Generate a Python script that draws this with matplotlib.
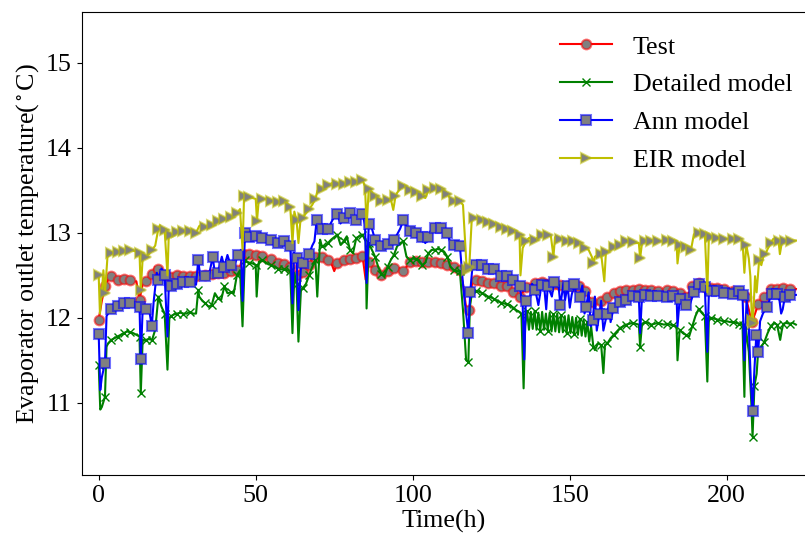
import numpy as np
import matplotlib
matplotlib.use("Agg")
import matplotlib.pyplot as plt

plt.rcParams['font.family'] = ['Liberation Serif', 'DejaVu Serif']
plt.rcParams['mathtext.fontset'] = 'stix'

# ---------------- data ----------------
test_t = [0, 1, 2, 3, 4, 5, 6, 7, 8, 9, 10, 11, 12, 13, 14, 15, 16, 17, 18, 19, 20,
          21, 22, 23, 24, 25, 26, 27, 28, 29, 30, 31, 32, 33, 34, 35, 36, 37, 38, 39, 40,
          41, 42, 43, 44, 45, 46, 47, 48, 49, 50, 51, 52, 53, 54, 55, 56, 57, 58, 59, 60,
          61, 62, 63, 64, 65, 66, 67, 68, 69, 70, 71, 72, 73, 74, 75, 76, 77, 78, 79, 80,
          81, 82, 83, 84, 85, 86, 87, 88, 89, 90, 91, 92, 93, 94, 95, 96, 97, 98, 99, 100,
          101, 102, 103, 104, 105, 106, 107, 108, 109, 110, 111, 112, 113, 114, 115, 116, 117, 118, 119, 120,
          121, 122, 123, 124, 125, 126, 127, 128, 129, 130, 131, 132, 133, 134, 135, 136, 137, 138, 139, 140,
          141, 142, 143, 144, 145, 146, 147, 148, 149, 150, 151, 152, 153, 154, 155, 156, 157, 158, 159, 160,
          161, 162, 163, 164, 165, 166, 167, 168, 169, 170, 171, 172, 173, 174, 175, 176, 177, 178, 179, 180,
          181, 182, 183, 184, 185, 186, 187, 188, 189, 190, 191, 192, 193, 194, 195, 196, 197, 198, 199, 200,
          201, 202, 203, 204, 205, 206, 207, 208, 209, 210, 211, 212, 213, 214, 215, 216, 217, 218, 219, 220,
          221, 222]
test_v = [11.98, 12.20, 12.37, 12.45, 12.49, 12.47, 12.45, 12.45, 12.46, 12.45, 12.44, 12.43, 12.43, 12.21, 12.40, 12.43, 12.44, 12.52, 12.60, 12.58, 12.56,
          12.50, 12.49, 12.48, 12.49, 12.50, 12.48, 12.49, 12.50, 12.49, 12.48, 12.49, 12.52, 12.50, 12.51, 12.50, 12.52, 12.53, 12.53, 12.52, 12.53,
          12.54, 12.55, 12.55, 12.56, 12.60, 12.75, 12.74, 12.75, 12.74, 12.74, 12.74, 12.73, 12.72, 12.70, 12.69, 12.67, 12.65, 12.64, 12.63, 12.63,
          12.60, 12.40, 12.50, 12.51, 12.54, 12.56, 12.62, 12.70, 12.72, 12.72, 12.72, 12.70, 12.68, 12.65, 12.55, 12.65, 12.68, 12.68, 12.68, 12.69,
          12.69, 12.70, 12.72, 12.73, 12.45, 12.66, 12.60, 12.56, 12.52, 12.50, 12.49, 12.55, 12.59, 12.59, 12.59, 12.58, 12.55, 12.60, 12.66, 12.68,
          12.67, 12.66, 12.66, 12.66, 12.66, 12.66, 12.66, 12.66, 12.65, 12.64, 12.62, 12.60, 12.60, 12.58, 12.56, 12.40, 12.12, 12.09, 12.45, 12.45,
          12.44, 12.43, 12.42, 12.41, 12.41, 12.41, 12.40, 12.38, 12.38, 12.37, 12.37, 12.30, 12.27, 12.25, 12.30, 12.36, 12.38, 12.40, 12.41, 12.40,
          12.42, 12.41, 12.40, 12.41, 12.40, 12.40, 12.39, 12.40, 12.38, 12.38, 12.38, 12.37, 12.37, 12.35, 12.31, 12.26, 12.19, 12.18, 12.17, 12.20,
          12.23, 12.25, 12.27, 12.29, 12.30, 12.31, 12.32, 12.33, 12.33, 12.33, 12.33, 12.34, 12.33, 12.33, 12.34, 12.33, 12.33, 12.32, 12.33, 12.33,
          12.33, 12.33, 12.32, 12.33, 12.29, 12.27, 12.25, 12.30, 12.38, 12.43, 12.41, 12.38, 12.36, 12.35, 12.35, 12.35, 12.35, 12.35, 12.34, 12.34,
          12.33, 12.31, 12.30, 12.29, 12.27, 12.25, 12.10, 11.95, 12.05, 12.16, 12.22, 12.25, 12.30, 12.34, 12.35, 12.34, 12.35, 12.35, 12.35, 12.34,
          12.35, 12.34]

detailed_t = [0, 0.5, 1, 2, 2.5, 3, 4, 5, 6, 7, 8, 9, 10, 11, 12, 13, 13.4, 14, 15, 16, 17, 18, 19, 20, 21, 21.9, 22.5,
              23, 24, 25, 26, 27, 28, 29, 30, 31, 31.7, 32, 33, 34, 35, 36, 37, 38, 39, 40, 41, 42, 43, 44, 45, 45.8, 46.5,
              47, 48, 49, 50, 50.3, 51, 52, 53, 54, 55, 56, 57, 58, 59, 60, 61, 61.7, 62.3, 63, 63.6, 64.4, 65, 66, 67, 68, 69,
              69.6, 70.5, 71, 72, 73, 74, 75, 76, 77, 78, 79, 80, 81, 82, 83, 84, 85, 85.3, 86, 87, 88, 89, 90, 91, 92, 93, 94,
              95, 96, 97, 98, 99, 100, 101, 102, 103, 104, 105, 106, 107, 108, 109, 110, 111, 112, 113, 114, 115, 116, 117, 117.7,
              118.2, 119, 120, 121, 122, 123, 124, 125, 126, 127, 128, 129, 130, 131, 132, 133, 134, 134.6, 135.3,
              135.8, 136.4, 137.0, 137.6, 138.2, 138.8, 139.4, 140.0, 140.6, 141.2, 141.8, 142.4, 143.0, 143.6, 144.2, 144.8,
              145.4, 146.0, 146.6, 147.2, 147.8, 148.4, 149.0, 149.6, 150.2, 150.8, 151.4, 152.0, 152.6, 153.2, 153.8, 154.4,
              155.0, 155.6, 156.2, 156.8, 157.5, 158, 159, 160, 160.7, 161.2, 162, 163, 164, 165, 166, 167, 168, 169, 170,
              171, 172, 172.4, 173, 174, 175, 176, 177, 178, 179, 180, 181, 182, 183, 184, 184.3, 185, 186, 187, 188, 189, 190,
              191, 192, 193, 193.8, 194.3, 195, 196, 197, 198, 199, 200, 201, 202, 203, 204, 205, 205.6, 206, 207, 207.8, 208.2,
              208.8, 209.5, 210, 211, 212, 213, 214, 215, 216, 217, 217.5, 218, 219, 220, 221, 222]
detailed_v = [11.45, 10.92, 10.95, 11.07, 11.66, 11.70, 11.74, 11.76, 11.78, 11.80, 11.82, 11.84, 11.83, 11.82, 11.80, 11.78, 11.11, 11.74, 11.74, 11.75, 11.74, 11.86, 12.25, 12.13, 12.05, 11.39, 12.00,
              12.02, 12.04, 12.05, 12.06, 12.05, 12.05, 12.07, 12.05, 12.05, 12.33, 12.25, 12.20, 12.17, 12.13, 12.15, 12.29, 12.23, 12.21, 12.37, 12.29, 12.30, 12.29, 12.50, 12.56, 11.90, 12.68,
              12.66, 12.65, 12.64, 12.62, 12.25, 12.66, 12.68, 12.66, 12.63, 12.62, 12.60, 12.58, 12.57, 12.57, 12.56, 12.55, 11.82, 12.53, 12.40, 11.72, 12.33, 12.35, 12.40, 12.50, 12.60, 12.68,
              12.25, 12.92, 12.85, 12.84, 12.88, 12.92, 12.95, 12.98, 12.86, 12.90, 12.96, 12.80, 12.76, 12.94, 12.96, 12.98, 12.90, 12.11, 12.88, 12.80, 12.72, 12.60, 12.52, 12.49, 12.60, 12.68, 12.74,
              12.84, 12.88, 12.90, 12.72, 12.68, 12.70, 12.69, 12.68, 12.62, 12.65, 12.76, 12.80, 12.80, 12.81, 12.80, 12.78, 12.72, 12.60, 12.56, 12.55, 12.55, 12.09, 11.50, 11.48,
              12.13, 12.33, 12.32, 12.31, 12.29, 12.27, 12.25, 12.24, 12.22, 12.20, 12.18, 12.17, 12.16, 12.15, 12.12, 12.09, 12.07, 12.05, 11.17,
              11.90, 12.08, 11.86, 12.07, 11.87, 12.08, 11.86, 12.06, 11.85, 12.07, 11.86, 12.05, 11.85, 12.06, 11.84, 12.04,
              11.84, 12.05, 11.83, 12.03, 11.83, 12.02, 11.82, 12.03, 11.82, 12.01, 11.81, 12.00, 11.80, 11.99, 11.79, 11.98,
              11.78, 11.95, 11.72, 11.90, 11.66, 11.62, 11.70, 11.68, 11.35, 11.68, 11.70, 11.76, 11.80, 11.84, 11.88, 11.90, 11.92, 11.93, 11.94,
              11.93, 11.92, 11.66, 11.93, 11.95, 11.94, 11.92, 11.93, 11.94, 11.93, 11.92, 11.93, 11.92, 11.91, 11.90, 11.50, 11.86, 11.82, 11.80, 11.78, 11.90, 12.02,
              12.10, 12.06, 12.02, 11.25, 12.00, 12.00, 11.99, 11.98, 11.97, 11.96, 11.96, 11.95, 11.95, 11.94, 11.93, 11.92, 11.07, 11.90, 11.60, 11.00, 10.60,
              11.20, 11.34, 11.62, 11.66, 11.72, 11.82, 11.90, 11.94, 11.92, 11.74, 11.85, 11.93, 11.94, 11.93, 11.94, 11.92]

ann_t = [0, 0.5, 1, 2, 2.5, 3, 4, 5, 6, 7, 8, 9, 10, 11, 12, 13, 13.4, 14, 15, 16, 16.9, 17.5, 18.5, 19, 20, 21, 21.9, 22.3,
         23, 24, 25, 26, 27, 28, 29, 30, 31, 31.7, 32.3, 33, 34, 35, 36.3, 37, 38, 39.2, 40, 41, 42, 43, 44.5, 45.3, 45.8, 46.6,
         47, 48, 49, 50, 51, 52, 53, 54, 55, 56, 57, 58, 59, 60, 61, 61.7, 62.2, 63, 63.6, 64.4, 65, 66, 67, 68, 68.7, 69.4,
         70, 71, 72, 73, 74, 75, 76, 77, 78, 79, 80, 81, 82, 83, 84, 84.8, 85.3, 86, 87, 88, 89, 90, 91, 92, 93, 94,
         95, 96, 97, 98, 99, 100, 101, 102, 103, 104, 105, 106, 107, 108, 109, 110, 111, 112, 113, 114, 115, 116, 116.5, 117.7,
         118.3, 119, 120, 121, 122, 123, 124, 125, 126, 127, 128, 129, 130, 131, 132, 133, 134, 135, 135.5, 136,
         137.4, 138, 139, 140, 141, 141.8, 142.5, 143, 144.3, 145, 146.4, 147, 148, 148.5, 149.3, 150, 150.6, 151.5, 152.3,
         153.1, 154, 154.7, 155.2, 156, 156.7, 157.3, 158, 158.6, 159.4, 160, 160.7, 161.8, 162.5, 163, 163.9, 165, 166,
         167, 168, 169, 170, 171, 172, 172.4, 173, 174, 175, 176, 177, 178, 179, 180, 181, 182, 183, 184, 184.3, 185, 186,
         187, 188, 189.5, 190.4, 191, 192, 193, 193.8, 194.3, 195, 196, 197, 198, 199, 200, 201, 202, 203, 204, 205, 205.6,
         206.3, 207, 207.6, 208.2, 208.8, 209.4, 210, 210.6, 211.5, 212.7, 213.5, 214.3, 215.1, 216, 216.8, 217.3, 217.8,
         218.5, 219.1, 220, 221, 222]
ann_v = [11.81, 11.15, 11.30, 11.47, 12.02, 12.05, 12.10, 12.12, 12.14, 12.15, 12.17, 12.18, 12.17, 12.16, 12.14, 12.13, 11.51, 12.10, 12.10, 12.11, 11.90, 12.19, 12.53, 12.45, 12.58, 12.50, 11.78, 12.36,
         12.37, 12.38, 12.40, 12.42, 12.42, 12.43, 12.42, 12.40, 12.39, 12.68, 12.50, 12.50, 12.49, 12.48, 12.72, 12.52, 12.53, 12.72, 12.60, 12.74, 12.62, 12.61, 12.74, 12.80, 12.20, 13.00,
         12.98, 12.95, 12.95, 12.96, 12.96, 12.94, 12.94, 12.93, 12.92, 12.90, 12.88, 12.89, 12.90, 12.91, 12.85, 12.17, 12.77, 12.70, 12.09, 12.60, 12.65, 12.69, 12.75, 12.85, 12.90, 13.15,
         13.00, 13.05, 13.10, 13.04, 13.12, 13.19, 13.22, 13.11, 13.18, 13.20, 13.23, 13.18, 13.15, 13.20, 13.22, 13.10, 12.41, 13.10, 13.05, 12.92, 12.88, 12.84, 12.83, 12.87, 12.88, 12.92,
         12.98, 13.05, 13.15, 13.08, 13.02, 13.02, 13.00, 13.00, 12.95, 12.88, 12.95, 13.05, 13.06, 13.07, 13.06, 13.05, 13.00, 12.88, 12.86, 12.86, 12.85, 12.40, 12.21, 11.82,
         12.30, 12.60, 12.62, 12.62, 12.62, 12.60, 12.57, 12.57, 12.57, 12.53, 12.49, 12.49, 12.49, 12.48, 12.45, 12.42, 12.38, 12.15, 11.51, 12.20,
         12.24, 12.40, 12.33, 12.15, 12.39, 12.39, 12.10, 12.38, 12.25, 12.42, 12.39, 12.15, 12.40, 12.21, 12.38, 12.12, 12.27, 12.40, 12.20,
         12.25, 12.38, 12.05, 12.13, 12.30, 11.90, 11.98, 12.25, 11.85, 12.04, 12.20, 11.85, 12.04, 12.15, 11.95, 12.11, 12.17, 12.19,
         12.20, 12.21, 12.24, 12.26, 12.27, 12.25, 11.82, 12.25, 12.27, 12.28, 12.26, 12.26, 12.26, 12.25, 12.26, 12.25, 12.26, 12.26, 12.26, 11.90, 12.22, 12.18,
         12.15, 12.13, 12.30, 12.39, 12.40, 12.39, 12.36, 11.60, 12.32, 12.31, 12.32, 12.32, 12.30, 12.29, 12.28, 12.27, 12.28, 12.30, 12.31, 12.27, 11.50,
         12.21, 11.90, 11.30, 10.90, 11.40, 11.80, 11.60, 11.96, 12.05, 12.13, 12.20, 12.28, 12.29, 12.28, 12.20, 12.05, 12.10,
         12.25, 12.26, 12.27, 12.27, 12.27]

eir_t = [0, 0.4, 1, 1.5, 2, 2.8, 3.5, 4, 5, 6, 7, 8, 9, 10, 11, 12, 13, 13.4, 14, 15, 16, 17, 18, 19, 19.5, 20, 21, 21.9, 22.3,
         23, 24, 25, 26, 27, 28, 29, 30, 31, 32, 33, 34, 35, 36, 37, 38, 39, 40, 41, 42, 43, 44, 45, 45.8, 46.3,
         47, 48, 49, 50, 50.4, 51, 52, 53, 54, 55, 56, 57, 58, 59, 60, 61, 61.7, 62.3, 63, 63.6, 64.2, 65, 66, 67, 68, 69, 69.7,
         70.5, 71, 72, 73, 74, 75, 76, 77, 78, 79, 80, 81, 82, 83, 84, 84.8, 85.3, 86, 87, 88, 89, 90, 91, 92, 93, 93.8, 94.5,
         95, 96, 97, 98, 99, 100, 101, 102, 103, 104, 105, 106, 107, 108, 109, 110, 111, 112, 113, 114, 115, 116, 117.2, 118,
         118.8, 119.5, 120, 121, 122, 123, 124, 125, 126, 127, 128, 129, 130, 131, 132, 133, 134, 134.3, 135, 136, 137, 138, 139,
         140, 141, 142, 143, 144, 144.8, 145.3, 146, 147, 148, 149, 150, 151, 152, 153, 154, 155, 156, 157, 157.5, 158, 159, 160,
         161, 161.5, 162, 163, 164, 165, 166, 167, 168, 169, 170, 171, 172, 172.4, 173, 174, 175, 176, 177, 178, 179, 180,
         181, 182, 183, 184, 184.3, 185, 186, 187, 188, 188.6, 189.5, 190, 191, 192, 193, 193.8, 194.3, 195, 196, 197, 198, 199, 200,
         201, 202, 203, 204, 205, 205.6, 206.2, 207, 207.5, 208, 208.3, 209, 209.5, 210.3, 211, 211.6, 212.3, 213, 214, 214.8,
         215.5, 216.5, 216.9, 217.5, 218.5, 219.4, 220.5, 221.7, 222]
eir_v = [12.50, 12.05, 12.30, 12.56, 12.29, 12.72, 12.74, 12.76, 12.77, 12.78, 12.78, 12.79, 12.79, 12.80, 12.79, 12.78, 12.76, 12.33, 12.70, 12.72, 12.75, 12.80, 12.85, 13.05, 13.09, 13.06, 13.03, 12.50, 12.96,
         12.97, 13.00, 13.01, 13.02, 13.02, 13.02, 13.02, 13.01, 13.00, 13.08, 13.10, 13.07, 13.08, 13.09, 13.12, 13.14, 13.16, 13.16, 13.17, 13.19, 13.21, 13.23, 13.28, 12.80, 13.44,
         13.43, 13.42, 13.41, 13.40, 13.14, 13.40, 13.40, 13.40, 13.39, 13.38, 13.37, 13.36, 13.36, 13.37, 13.35, 13.30, 12.88, 13.25, 13.15, 12.88, 13.13, 13.18, 13.23, 13.28, 13.33, 13.40, 13.50,
         13.51, 13.52, 13.55, 13.56, 13.58, 13.60, 13.58, 13.56, 13.58, 13.60, 13.60, 13.58, 13.60, 13.61, 13.62, 13.55, 13.07, 13.52, 13.48, 13.43, 13.40, 13.38, 13.37, 13.39, 13.40, 13.27, 13.43,
         13.47, 13.52, 13.55, 13.53, 13.50, 13.49, 13.48, 13.47, 13.44, 13.41, 13.50, 13.53, 13.53, 13.53, 13.52, 13.50, 13.46, 13.40, 13.37, 13.37, 13.37, 13.33, 12.56, 12.60,
         13.17, 13.17, 13.17, 13.16, 13.15, 13.14, 13.13, 13.12, 13.11, 13.09, 13.07, 13.06, 13.05, 13.04, 13.02, 13.00, 12.98, 12.50, 12.82, 12.90, 12.94, 12.93, 12.92,
         12.95, 12.98, 13.00, 12.98, 12.96, 12.72, 12.95, 12.94, 12.93, 12.92, 12.91, 12.91, 12.91, 12.90, 12.88, 12.85, 12.82, 12.80, 12.72, 12.65, 12.72, 12.74, 12.75,
         12.43, 12.77, 12.78, 12.80, 12.83, 12.84, 12.86, 12.88, 12.90, 12.90, 12.89, 12.88, 12.88, 12.70, 12.88, 12.90, 12.92, 12.91, 12.91, 12.90, 12.90, 12.91,
         12.92, 12.91, 12.90, 12.88, 12.64, 12.86, 12.85, 12.83, 12.80, 12.80, 12.98, 13.00, 13.00, 13.00, 12.99, 12.30, 12.97, 12.95, 12.95, 12.94, 12.94, 12.93, 12.93,
         12.92, 12.93, 12.94, 12.93, 12.90, 12.53, 12.86, 12.70, 12.49, 11.98, 11.94, 12.49, 12.30, 12.68, 12.62, 12.72, 12.75, 12.81, 12.88, 12.93,
         12.92, 12.90, 12.75, 12.88, 12.91, 12.92, 12.91, 12.91, 12.91]

labels = ['Test', 'Detailed model', 'Ann model', 'EIR model']
x_ticks = [0, 50, 100, 150, 200]
y_ticks = [11, 12, 13, 14, 15]

FS = 18.7

# ---------------- figure ----------------
W, H = 805, 536
fig = plt.figure(figsize=(W / 100, H / 100), dpi=100)
ax = fig.add_axes([81.7 / W, 1 - 475 / H, (W - 81.7) / W, (475 - 12) / H])


def marks(t, v, step=2.1, keep=(2.0, 13.4, 117.2, 117.7, 118.0, 208.2, 208.3)):
    """Pick existing data indices roughly every `step` hours, skipping spikes."""
    t = np.asarray(t, dtype=float)
    v = np.asarray(v, dtype=float)
    n = len(t)
    spike = np.zeros(n, bool)
    for i in range(1, n - 1):
        if abs(v[i] - v[i - 1]) > 0.3 and abs(v[i] - v[i + 1]) > 0.3:
            spike[i] = True
    cand = np.where(~spike)[0]
    out = set()
    for target in np.arange(0, t[-1] + 0.01, step):
        j = cand[np.argmin(np.abs(t[cand] - target))]
        out.add(int(j))
    for k in keep:
        j = int(np.argmin(np.abs(t - k)))
        if abs(t[j] - k) < 0.05:
            out.add(j)
    return sorted(out)


series = [
    (test_t, test_v, 'r', 'o', (1, 0, 0, 0.55), 7, 1.5),
    (detailed_t, detailed_v, 'g', 'x', 'g', 6, 1.0),
    (ann_t, ann_v, 'b', 's', (0, 0, 1, 0.55), 7, 1.5),
    (eir_t, eir_v, 'y', '>', (0.75, 0.75, 0, 0.55), 7, 1.5),
]
for (t, v, c, m, ec, ms, mew), lab in zip(series, labels):
    ax.plot(t, v, color=c, lw=1.5, marker=m, markevery=marks(t, v),
            markersize=ms, markerfacecolor='gray', markeredgecolor=ec,
            markeredgewidth=mew, label=lab)

ax.set_xlim(-5.41, 224.9)
ax.set_ylim(10.15, 15.6)
ax.set_xticks(x_ticks)
ax.set_yticks(y_ticks)
ax.tick_params(labelsize=FS)
ax.spines['right'].set_visible(False)
ax.set_xlabel('Time(h)', fontsize=FS, labelpad=2)
ax.set_ylabel(r'Evaporator outlet temperature($^\circ$C)', fontsize=FS)

ax.legend(loc='upper right', frameon=False, fontsize=FS, labelspacing=0.56,
          bbox_to_anchor=(1.015, 1.0))

fig.savefig('out.png', dpi=100)
